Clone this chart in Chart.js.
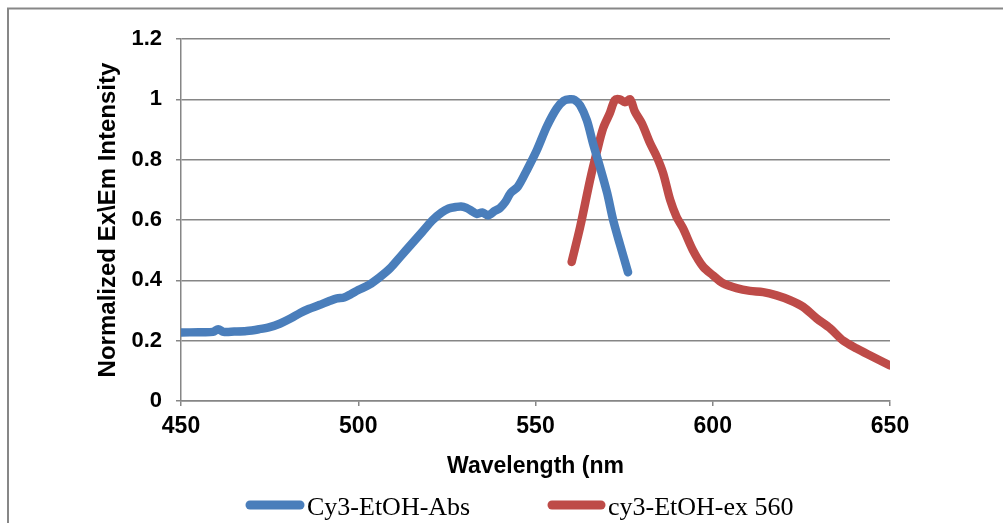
<!DOCTYPE html>
<html>
<head>
<meta charset="utf-8">
<script src="https://cdn.jsdelivr.net/npm/chart.js@4/dist/chart.umd.min.js"></script>
<style>
  html, body { margin: 0; padding: 0; background: #ffffff; }
  #wrap { width: 1003px; height: 523px; position: relative; }
</style>
</head>
<body>
<div id="wrap"><canvas id="c" width="1003" height="523"></canvas></div>
<script>
// ---- data ----
const absWavelength = [450, 455, 459, 460.5, 462, 465, 468.5, 472, 475, 478, 481, 483.6, 486, 489, 492, 494, 496, 498, 500, 503, 506, 509, 512, 515, 518, 521, 523.5, 525.5, 527.5, 529, 530.5, 532, 533.5, 535, 536.6, 538.5, 540, 541.5, 543, 545, 547.6, 550.4, 553.2, 556, 558, 559.7, 561, 562.6, 564.5, 566.2, 568.2, 570.2, 571.9, 573.8, 576.1];
const absValues = [0.227, 0.228, 0.229, 0.238, 0.229, 0.230, 0.232, 0.238, 0.245, 0.257, 0.274, 0.292, 0.305, 0.318, 0.332, 0.340, 0.343, 0.355, 0.368, 0.385, 0.41, 0.44, 0.48, 0.52, 0.56, 0.60, 0.625, 0.638, 0.643, 0.645, 0.64, 0.63, 0.62, 0.625, 0.615, 0.63, 0.64, 0.66, 0.69, 0.71, 0.766, 0.832, 0.91, 0.97, 0.995, 1.0, 0.998, 0.98, 0.93, 0.855, 0.775, 0.69, 0.60, 0.52, 0.427];
const exWavelength = [560.2, 562.6, 565.4, 567.3, 569.1, 571, 572.4, 573.8, 575.2, 576.7, 578, 580, 582.3, 584.2, 586, 588, 589.8, 591.6, 594.4, 597.3, 600, 602.9, 606.7, 610.5, 614.2, 618, 621.8, 625.5, 629.3, 633.1, 636.8, 640.6, 644.4, 650];
const exValues = [0.461, 0.577, 0.733, 0.826, 0.905, 0.955, 0.998, 1.0, 0.99, 1.0, 0.96, 0.92, 0.855, 0.81, 0.755, 0.666, 0.61, 0.573, 0.50, 0.445, 0.417, 0.39, 0.374, 0.365, 0.361, 0.35, 0.334, 0.312, 0.274, 0.241, 0.20, 0.174, 0.151, 0.118];
const seriesNames = ["Cy3-EtOH-Abs", "cy3-EtOH-ex 560"];
const xTicks = [450, 500, 550, 600, 650];
const yTicks = [0, 0.2, 0.4, 0.6, 0.8, 1, 1.2];
const xTitle = "Wavelength (nm";
const yTitle = "Normalized Ex\\Em Intensity";

// ---- styles ----
const BLUE = "#4A7EBB";
const RED = "#BE4B48";
const GRID = "#868686";
const sans = "'Liberation Sans', Arial, sans-serif";

function pts(xs, ys) { return xs.map((x, i) => ({ x: x, y: ys[i] })); }

const framePlugin = {
  id: "frame",
  beforeDraw(chart) {
    const ctx = chart.ctx;
    ctx.save();
    ctx.strokeStyle = "#878787";
    ctx.lineWidth = 2;
    ctx.strokeRect(8, 8.5, 3000, 3000);
    ctx.restore();
  }
};

const legendPlugin = {
  id: "customLegend",
  afterDraw(chart) {
    const ctx = chart.ctx;
    const items = [
      { x0: 250, x1: 300, tx: 307 },
      { x0: 552, x1: 601, tx: 608 }
    ];
    ctx.save();
    chart.data.datasets.forEach((ds, i) => {
      const it = items[i];
      ctx.strokeStyle = ds.borderColor;
      ctx.lineWidth = 9;
      ctx.lineCap = "round";
      ctx.beginPath();
      ctx.moveTo(it.x0, 505);
      ctx.lineTo(it.x1, 505);
      ctx.stroke();
      ctx.fillStyle = "#000";
      ctx.font = "26px 'Liberation Serif', serif";
      ctx.textBaseline = "alphabetic";
      ctx.fillText(ds.label, it.tx, 515);
    });
    ctx.restore();
  }
};

new Chart(document.getElementById("c"), {
  type: "line",
  data: {
    datasets: [
      { label: seriesNames[0], data: pts(absWavelength, absValues), borderColor: BLUE, backgroundColor: BLUE, borderWidth: 8.5, pointRadius: 0, tension: 0.3, borderCapStyle: "round", borderJoinStyle: "round", fill: false },
      { label: seriesNames[1], data: pts(exWavelength, exValues), borderColor: RED, backgroundColor: RED, borderWidth: 8.5, pointRadius: 0, tension: 0.3, borderCapStyle: "round", borderJoinStyle: "round", fill: false }
    ]
  },
  options: {
    responsive: false,
    animation: false,
    devicePixelRatio: 1,
    layout: { padding: { left: 0, top: 39, right: 113, bottom: 42 } },
    plugins: { legend: { display: false }, tooltip: { enabled: false } },
    scales: {
      x: {
        type: "linear",
        min: 450, max: 650,
        afterBuildTicks(scale) { scale.ticks = xTicks.map(v => ({ value: v })); },
        afterFit(scale) { scale.height = 80; },
        grid: { drawOnChartArea: false, drawTicks: true, tickLength: 5, color: GRID, lineWidth: 1.5 },
        border: { color: GRID, width: 1.5 },
        ticks: { color: "#000", font: { family: sans, size: 23, weight: "bold" }, padding: 7, maxRotation: 0 },
        title: { display: true, text: xTitle, color: "#000", font: { family: sans, size: 23, weight: "bold" }, padding: { top: 0, bottom: 1 } }
      },
      y: {
        min: 0, max: 1.2,
        afterBuildTicks(scale) { scale.ticks = yTicks.map(v => ({ value: v })); },
        afterFit(scale) { scale.width = 181; },
        grid: { color: GRID, lineWidth: 1.5, tickLength: 5 },
        border: { color: GRID, width: 1.5 },
        ticks: { color: "#000", font: { family: sans, size: 22, weight: "bold" }, padding: 14, callback: v => String(+v.toFixed(1)) },
        title: { display: true, text: yTitle, color: "#000", font: { family: sans, size: 24, weight: "bold" }, padding: { top: 94, bottom: 0 } }
      }
    }
  },
  plugins: [framePlugin, legendPlugin]
});
</script>
</body>
</html>
